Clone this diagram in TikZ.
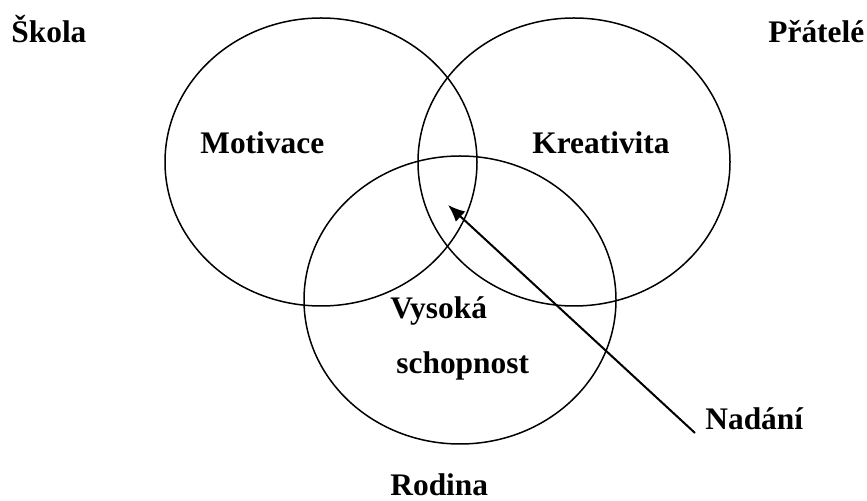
\documentclass[tikz,border=0pt]{standalone}
\usepackage{fontspec}
\setmainfont{Liberation Serif}
\usetikzlibrary{shapes.geometric,arrows.meta}

\tikzset{
	ring/.style={draw, ellipse, line width=0.75pt, minimum width=156pt, minimum height=144pt, inner sep=0pt},
	lbl/.style={font=\bfseries\fontsize{15.7}{19}\selectfont, inner sep=0pt, anchor=base west},
	pointer/.style={line width=1pt, -{Latex[length=8.5pt,width=7pt]}}
}

\begin{document}
\begin{tikzpicture}[x=0.5pt, y=-0.5pt]
	\useasboundingbox (0,0) rectangle (867,501);

	\node[ring] (skolaRing) at (321,162) {};
	\node[ring] (pratelRing) at (574,162) {};
	\node[ring] (rodinaRing) at (460,300) {};

	\node[lbl] (skola) at (11,43) {Škola};
	\node[lbl] (pratele) at (768,43) {Přátelé};
	\node[lbl] (rodina) at (390,496) {Rodina};

	\node[lbl] (motivace) at (200,154) {Motivace};
	\node[lbl] (kreativita) at (532,154) {Kreativita};
	\node[lbl] (vysoka) at (390,319) {Vysoká};
	\node[lbl] (schopnost) at (396,374) {schopnost};
	\node[lbl] (nadani) at (705,430) {Nadání};

	\coordinate (tail) at (695,433);
	\coordinate (tip) at (448,205);
	\draw[pointer] (tail) -- (tip);
\end{tikzpicture}
\end{document}
